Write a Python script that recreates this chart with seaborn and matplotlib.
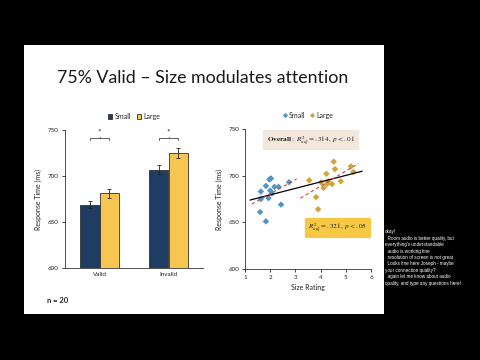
"""
Slide screenshot: 75% Valid - size modulates attention.
Bar chart of mean RT plus scatter of RT vs size rating.
"""

import numpy as np
import pandas as pd
import matplotlib
matplotlib.use("Agg")
import matplotlib.pyplot as plt
from matplotlib.patches import Rectangle
import seaborn as sns

# bar chart data
conditions = ["Valid", "Invalid"]
size_groups = ["Small", "Large"]
rt_small = [669, 707]
rt_large = [681, 725]
err_small = [4, 5]
err_large = [5, 5]

# scatter data (size rating vs RT)
small_x = [1.60, 1.63, 1.63, 1.83, 1.83, 1.93, 1.97, 2.03, 2.00, 2.07, 2.17, 2.33, 2.43, 2.75]
small_y = [661, 675, 683, 651, 689, 676, 696, 697, 684, 681, 688, 688, 669, 693]
large_x = [3.55, 3.82, 3.90, 4.02, 4.12, 4.23, 4.25, 4.30, 4.45, 4.52, 4.57, 4.80, 5.20, 5.30]
large_y = [695, 677, 664, 693, 687, 702, 691, 694, 691, 715, 707, 694, 710, 704]

chat_lines = [
    "okay!",
    "  Room audio is better quality, but",
    "everything's understandable",
    "  audio is working fine",
    "  resolution of screen is not great",
    "  Looks fine here Joseph - maybe",
    "your connection quality?",
    "  again let me know about audio",
    "quality, and type any questions here!",
]

NAVY = "#1F3D62"
GOLD = "#F6C650"
BLUE = "#4F95C8"
OCHRE = "#CFA53A"

sns.set_style("white")
plt.rcParams["font.family"] = ["Lato", "DejaVu Sans"]
plt.rcParams["mathtext.fontset"] = "stix"

fig = plt.figure(figsize=(4.8, 3.6), dpi=100, facecolor="black")
slide = Rectangle((24 / 480, 1 - 314 / 360), 360 / 480, 269 / 360,
                  transform=fig.transFigure, facecolor="white",
                  edgecolor="none", zorder=-10)
fig.patches.append(slide)

fig.text(0.423, 0.783, "75% Valid \u2013 Size modulates attention",
         ha="center", va="center", fontsize=12.8, color="#1a1a1a")
fig.text(0.098, 0.164, "n = 20", ha="left", va="center", fontsize=5.5,
         fontweight="bold", color="#222222")

# ---------------- bar chart ----------------
bars = pd.DataFrame({
    "condition": conditions * 2,
    "size": [size_groups[0]] * 2 + [size_groups[1]] * 2,
    "rt": rt_small + rt_large,
    "err": err_small + err_large,
})

ax1 = fig.add_axes([65 / 480, 1 - 268 / 360, 138 / 480, 138 / 360])
ax1.patch.set_alpha(0)
sns.barplot(data=bars, x="condition", y="rt", hue="size", order=conditions,
            hue_order=size_groups, palette=[NAVY, GOLD], errorbar=None,
            saturation=1, width=0.56, edgecolor="#333333", linewidth=0.6, ax=ax1)
ax1.set_ylim(600, 750)
ax1.set_yticks([600, 650, 700, 750])
ax1.set_xlim(-0.5, 1.5)

centers = {}
for cont, grp in zip(ax1.containers, size_groups):
    errs = bars.loc[bars["size"] == grp, "err"].to_numpy()
    vals = bars.loc[bars["size"] == grp, "rt"].to_numpy()
    xs = [p.get_x() + p.get_width() / 2 for p in cont.patches]
    centers[grp] = xs
    ax1.errorbar(xs, vals, yerr=errs, fmt="none", ecolor="#222222",
                 elinewidth=0.6, capsize=1.2, capthick=0.6)

# significance brackets
for i in range(len(conditions)):
    x0, x1 = centers["Small"][i], centers["Large"][i]
    ax1.plot([x0, x0, x1, x1], [739.5, 741, 741, 739.5], color="#444444",
             lw=0.6, clip_on=False)
    ax1.plot([(x0 + x1) / 2] * 2, [741, 742.5], color="#444444", lw=0.6,
             clip_on=False)
    ax1.text((x0 + x1) / 2, 748, "*", ha="center", va="center", fontsize=6,
             color="#222222", clip_on=False)

ax1.set_xlabel("")
ax1.set_ylabel("Response Time (ms)", fontsize=5, color="#222222", labelpad=4)
ax1.tick_params(axis="both", labelsize=4.5, colors="#222222", length=0, pad=3)
ax1.set_xticks([-0.5, 0.5, 1.5], minor=True)
ax1.tick_params(axis="x", which="minor", length=2, width=0.6, direction="inout")
ax1.tick_params(axis="y", length=2, width=0.6, direction="out", left=True)
for s in ["top", "right"]:
    ax1.spines[s].set_visible(False)
for s in ["left", "bottom"]:
    ax1.spines[s].set_color("#333333")
    ax1.spines[s].set_linewidth(0.6)
ax1.legend(loc="lower center", bbox_to_anchor=(0.5, 1.03), ncol=2,
           frameon=False, fontsize=5, handlelength=0.7, handleheight=0.7,
           handletextpad=0.3, columnspacing=0.8)

# ---------------- scatter ----------------
pts = pd.DataFrame({
    "rating": small_x + large_x,
    "rt": small_y + large_y,
    "size": ["Small"] * len(small_x) + ["Large"] * len(large_x),
})

ax2 = fig.add_axes([245 / 480, 1 - 269 / 360, 126 / 480, 140 / 360])
ax2.patch.set_alpha(0)
sns.scatterplot(data=pts, x="rating", y="rt", hue="size", hue_order=size_groups,
                palette=[BLUE, OCHRE], marker="D", s=11, linewidth=0, ax=ax2)

# fitted lines
fit_all = np.polyfit(pts["rating"], pts["rt"], 1)
xx = np.array([1.2, 5.65])
ax2.plot(xx, np.polyval(fit_all, xx), color="black", lw=0.9, zorder=3)
fit_s = np.polyfit(small_x, small_y, 1)
xx = np.array([1.27, 3.05])
ax2.plot(xx, np.polyval(fit_s, xx), color="#E0403A", lw=0.8, ls=(0, (3, 2.5)), zorder=3)
fit_l = np.polyfit(large_x, large_y, 1)
xx = np.array([3.2, 5.5])
ax2.plot(xx, np.polyval(fit_l, xx), color="#E0403A", lw=0.8, ls=(0, (3, 2.5)), zorder=3)

ax2.set_xlim(1, 6)
ax2.set_ylim(600, 750)
ax2.set_xticks(range(1, 7))
ax2.set_yticks([600, 650, 700, 750])
ax2.set_xlabel("Size Rating", fontsize=5, color="#222222", labelpad=3)
ax2.set_ylabel("Response Time (ms)", fontsize=5, color="#222222", labelpad=4)
ax2.tick_params(axis="both", labelsize=4.5, colors="#222222", length=2,
                width=0.6, direction="out", pad=2)
ax2.tick_params(bottom=True, left=True)
for s in ["top", "right"]:
    ax2.spines[s].set_visible(False)
for s in ["left", "bottom"]:
    ax2.spines[s].set_color("#333333")
    ax2.spines[s].set_linewidth(0.6)
ax2.legend(loc="lower center", bbox_to_anchor=(0.5, 1.03), ncol=2,
           frameon=False, fontsize=5, handlelength=0.6, handletextpad=0.3,
           columnspacing=0.6, markerscale=0.8)

ax2.text(0.524, 0.921,
         r"$\mathbf{Overall}\mathrm{:}\ R^2_{adj} = .314,\ p < .01$",
         transform=ax2.transAxes, ha="center", va="center", fontsize=5.2,
         color="#222222",
         bbox=dict(boxstyle="square,pad=0.5", fc="#F3E6DA", ec="none"))
ax2.text(0.738, 0.293, r"$R^2_{adj} = .321,\ p < .05$",
         transform=ax2.transAxes, ha="center", va="center", fontsize=5.2,
         color="#222222",
         bbox=dict(boxstyle="round,pad=0.5,rounding_size=0.2", fc="#F6C844", ec="none"))

# chat overlay on the right
for i, line in enumerate(chat_lines):
    fig.text(385 / 480, 1 - (232 + i * 6.4) / 360, line, ha="left", va="center",
             fontsize=3.3, color="white", family="Liberation Sans")

fig.savefig("out.png", dpi=100, facecolor="black")
